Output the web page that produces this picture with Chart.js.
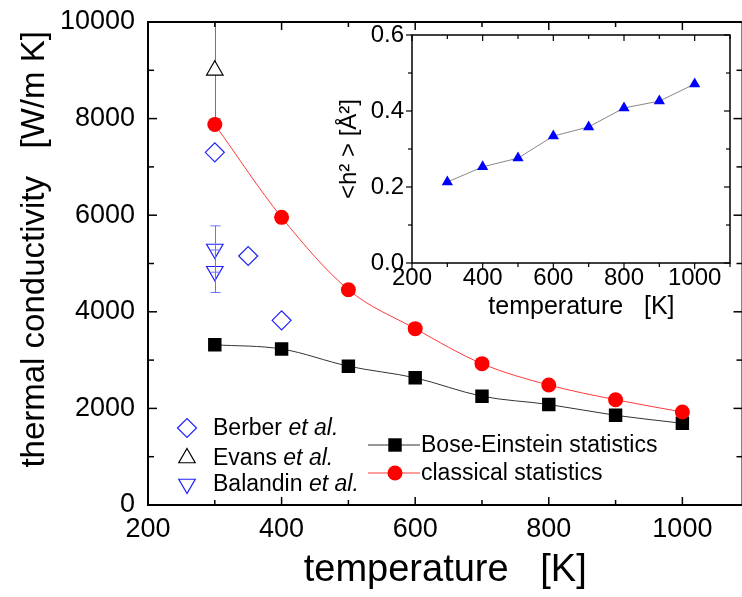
<!DOCTYPE html>
<html>
<head>
<meta charset="utf-8">
<script src="https://cdn.jsdelivr.net/npm/chart.js@4.4.0/dist/chart.umd.min.js"></script>
<style>
  html, body { margin: 0; padding: 0; background: #fff; overflow: hidden; width: 742px; height: 597px; }
  #main { position: absolute; left: 0; top: 0; }
  #inset { position: absolute; left: 320px; top: 20px; }
</style>
</head>
<body>
<canvas id="main" width="760" height="597"></canvas>
<canvas id="inset" width="420" height="330"></canvas>
<script>
// data
const temps = [300, 400, 500, 600, 700, 800, 900, 1000]
const boseEinstein = [3317, 3230, 2874, 2633, 2252, 2081, 1857, 1692]
const classical = [7878, 5956, 4458, 3651, 2926, 2484, 2180, 1925]
const berberT = [300, 350, 400]
const berberK = [7302, 5155, 3824]
const evansT = [300]
const evansK = [9000]
const evansErr = [1000]
const balandinT = [300, 300]
const balandinK = [5300, 4840]
const balandinErr = [480, 440]
const h2 = [0.213, 0.253, 0.276, 0.334, 0.358, 0.408, 0.426, 0.471]

const xTicksMain = { min: 200, max: 1090, step: 200, minor: 100 }
const yTicksMain = { min: 0, max: 10000, step: 2000, minor: 1000 }
const xTicksInset = { min: 200, max: 1100, step: 200, minor: 100 }
const yTicksInset = { min: 0, max: 0.6, step: 0.2, minor: 0.1 }

const fontFamily = '"Liberation Sans", Arial, sans-serif'
const blue = '#1f1fff'

Chart.defaults.font.family = fontFamily
Chart.defaults.color = '#000'

function pts (xs, ys) {
  return xs.map(function (x, i) { return { x: x, y: ys[i] } })
}

function line (ctx, x1, y1, x2, y2) {
  ctx.beginPath()
  ctx.moveTo(x1, y1)
  ctx.lineTo(x2, y2)
  ctx.stroke()
}

// tick marks: dir > 0 inward, dir < 0 outward
function drawAxisTicks (chart, spec, axis, sides, major, minor) {
  const ctx = chart.ctx
  const a = chart.chartArea
  const scale = chart.scales[axis]
  const n = Math.round((spec.max - spec.min) / spec.minor)
  const every = Math.round(spec.step / spec.minor)
  for (let i = 0; i <= n; i++) {
    const v = spec.min + i * spec.minor
    if (v > spec.max + 1e-9) break
    const p = scale.getPixelForValue(v)
    const len = i % every === 0 ? major : minor
    sides.forEach(function (s) {
      if (s.side === 'bottom') line(ctx, p, a.bottom, p, a.bottom - s.dir * len)
      if (s.side === 'top') line(ctx, p, a.top, p, a.top + s.dir * len)
      if (s.side === 'left') line(ctx, a.left, p, a.left + s.dir * len, p)
      if (s.side === 'right') line(ctx, a.right, p, a.right - s.dir * len, p)
    })
  }
}

function drawErrorBars (chart, onTop) {
  const ctx = chart.ctx
  const a = chart.chartArea
  const xs = chart.scales.x
  const ys = chart.scales.y
  chart.data.datasets.forEach(function (ds) {
    if (!ds.errors || !!ds.errorsOnTop !== onTop) return
    ctx.save()
    ctx.beginPath()
    ctx.rect(a.left, a.top - 1, a.right - a.left, a.bottom - a.top + 2)
    ctx.clip()
    ctx.strokeStyle = ds.errorColor
    ctx.lineWidth = 1
    ds.data.forEach(function (p, j) {
      const x = Math.round(xs.getPixelForValue(p.x)) + 0.5
      const y1 = ys.getPixelForValue(p.y - ds.errors[j])
      const y2 = ys.getPixelForValue(p.y + ds.errors[j])
      line(ctx, x, y1, x, y2)
      line(ctx, x - 5, y1, x + 5, y1)
      line(ctx, x - 5, y2, x + 5, y2)
    })
    ctx.restore()
  })
}

function legendText (ctx, x, y, plain, italic) {
  ctx.font = '23px ' + fontFamily
  ctx.fillText(plain, x, y)
  if (italic) {
    const w = ctx.measureText(plain).width
    ctx.font = 'italic 23px ' + fontFamily
    ctx.fillText(italic, x + w, y)
  }
}

// keep the tick label padding from pushing the plot area down
function fixedWidth (w) {
  return function (s) {
    s.width = w
    s.paddingTop = 0
    s.paddingBottom = 0
  }
}

const mainDecor = {
  id: 'mainDecor',
  beforeDatasetsDraw (chart) { drawErrorBars(chart, false) },
  afterDatasetsDraw (chart) { drawErrorBars(chart, true) },
  afterDraw (chart) {
    const ctx = chart.ctx
    const a = chart.chartArea
    ctx.save()
    ctx.strokeStyle = '#000'
    ctx.lineWidth = 2
    ctx.strokeRect(a.left, a.top, a.right - a.left, a.bottom - a.top)
    ctx.lineWidth = 1.5
    const inward = [{ side: 'bottom', dir: 1 }, { side: 'top', dir: 1 }]
    drawAxisTicks(chart, xTicksMain, 'x', inward, 8, 5)
    drawAxisTicks(chart, yTicksMain, 'y', [{ side: 'left', dir: 1 }, { side: 'right', dir: 1 }], 9, 6)

    // legend, left group (measured data)
    const h = Chart.helpers
    ctx.textBaseline = 'middle'
    ctx.fillStyle = '#000'
    const leftItems = [
      { style: 'rectRot', rot: 0, color: blue, y: 428, text: 'Berber ' },
      { style: 'triangle', rot: 0, color: '#000', y: 458, text: 'Evans ' },
      { style: 'triangle', rot: 180, color: blue, y: 484, text: 'Balandin ' }
    ]
    leftItems.forEach(function (it) {
      ctx.strokeStyle = it.color
      ctx.fillStyle = 'rgba(0,0,0,0)'
      ctx.lineWidth = 1.2
      h.drawPoint(ctx, { pointStyle: it.style, rotation: it.rot, radius: 9.5, borderWidth: 1.2 }, 187, it.y)
      ctx.fillStyle = '#000'
      legendText(ctx, 213, it.y + 1, it.text, 'et al.')
    })

    // legend, right group (calculations)
    const rightItems = [
      { style: 'rect', radius: 9.5, color: '#000', lineColor: '#333', y: 445, text: 'Bose-Einstein statistics' },
      { style: 'circle', radius: 7.5, color: '#ff0000', lineColor: '#ff3a3a', y: 473, text: 'classical statistics' }
    ]
    rightItems.forEach(function (it) {
      ctx.strokeStyle = it.lineColor
      ctx.lineWidth = 1
      line(ctx, 368, it.y, 420, it.y)
      ctx.fillStyle = it.color
      ctx.strokeStyle = it.color
      h.drawPoint(ctx, { pointStyle: it.style, rotation: 0, radius: it.radius, borderWidth: 0 }, 395, it.y)
      ctx.fillStyle = '#000'
      legendText(ctx, 421, it.y + 1, it.text)
    })
    ctx.restore()
  }
}

const mainChart = new Chart(document.getElementById('main'), {
  type: 'scatter',
  data: {
    datasets: [
      {
        label: 'classical statistics',
        data: pts(temps, classical),
        showLine: true,
        cubicInterpolationMode: 'monotone',
        borderColor: '#ff3a3a',
        borderWidth: 1,
        pointStyle: 'circle',
        pointRadius: 7.5,
        pointBackgroundColor: '#ff0000',
        pointBorderColor: '#ff0000',
        pointBorderWidth: 0
      },
      {
        label: 'Bose-Einstein statistics',
        data: pts(temps, boseEinstein),
        showLine: true,
        cubicInterpolationMode: 'monotone',
        borderColor: '#333',
        borderWidth: 1,
        pointStyle: 'rect',
        pointRadius: 9.5,
        pointBackgroundColor: '#000',
        pointBorderColor: '#000',
        pointBorderWidth: 0
      },
      {
        label: 'Evans et al.',
        data: pts(evansT, evansK),
        errors: evansErr,
        errorColor: '#777',
        pointStyle: 'triangle',
        pointRadius: 9.5,
        pointBackgroundColor: '#fff',
        pointBorderColor: '#000',
        pointBorderWidth: 1.2
      },
      {
        label: 'Berber et al.',
        data: pts(berberT, berberK),
        pointStyle: 'rectRot',
        pointRadius: 9.5,
        pointBackgroundColor: 'rgba(0,0,0,0)',
        pointBorderColor: blue,
        pointBorderWidth: 1.2
      },
      {
        label: 'Balandin et al.',
        data: pts(balandinT, balandinK),
        errors: balandinErr,
        errorColor: '#6f6fff',
        errorsOnTop: true,
        pointStyle: 'triangle',
        pointRotation: 180,
        pointRadius: 9.5,
        pointBackgroundColor: 'rgba(0,0,0,0)',
        pointBorderColor: blue,
        pointBorderWidth: 1.2
      }
    ]
  },
  options: {
    responsive: false,
    animation: false,
    events: [],
    layout: { padding: { left: 0, top: 22, right: 17.5, bottom: 0 } },
    plugins: { legend: { display: false }, tooltip: { enabled: false } },
    scales: {
      x: {
        type: 'linear',
        min: xTicksMain.min,
        max: xTicksMain.max,
        grid: { display: false, drawTicks: false },
        border: { display: false },
        ticks: {
          stepSize: xTicksMain.step,
          includeBounds: false,
          padding: 8,
          font: { size: 27 },
          callback: function (v) { return v % 200 === 0 ? String(v) : '' }
        },
        title: {
          display: true,
          text: 'temperature   [K]',
          font: { size: 38 },
          padding: { top: 0, bottom: 4 }
        },
        afterFit: function (s) { s.height = 597 - 505 }
      },
      y: {
        type: 'linear',
        min: yTicksMain.min,
        max: yTicksMain.max,
        grid: { display: false, drawTicks: false },
        border: { display: false },
        ticks: {
          stepSize: yTicksMain.step,
          padding: 13,
          font: { size: 27 },
          callback: function (v) { return String(v) }
        },
        title: {
          display: true,
          text: 'thermal conductivity   [W/m K] ',
          align: 'end',
          font: { size: 33 },
          padding: { top: 15, bottom: 0 }
        },
        afterFit: fixedWidth(148)
      }
    }
  },
  plugins: [mainDecor]
})

const insetDecor = {
  id: 'insetDecor',
  afterDraw (chart) {
    const ctx = chart.ctx
    const a = chart.chartArea
    ctx.save()
    ctx.strokeStyle = '#000'
    ctx.lineWidth = 1.5
    ctx.strokeRect(a.left, a.top, a.right - a.left, a.bottom - a.top)
    ctx.lineWidth = 1.2
    drawAxisTicks(chart, xTicksInset, 'x', [{ side: 'bottom', dir: -1 }, { side: 'top', dir: 1 }], 6, 4)
    drawAxisTicks(chart, yTicksInset, 'y', [{ side: 'left', dir: -1 }, { side: 'right', dir: 1 }], 6, 4)
    ctx.restore()
  }
}

const insetChart = new Chart(document.getElementById('inset'), {
  type: 'scatter',
  data: {
    datasets: [{
      label: '<h²>',
      data: pts(temps, h2),
      showLine: true,
      borderColor: '#888',
      borderWidth: 1,
      pointStyle: 'triangle',
      pointRadius: 6.5,
      pointBackgroundColor: '#0000ff',
      pointBorderColor: '#0000ff',
      pointBorderWidth: 0
    }]
  },
  options: {
    responsive: false,
    animation: false,
    events: [],
    layout: { padding: { left: 0, top: 15, right: 10, bottom: 0 } },
    plugins: { legend: { display: false }, tooltip: { enabled: false } },
    scales: {
      x: {
        type: 'linear',
        min: xTicksInset.min,
        max: xTicksInset.max,
        grid: { display: false, drawTicks: false },
        border: { display: false },
        ticks: {
          stepSize: xTicksInset.step,
          includeBounds: false,
          padding: 1,
          font: { size: 24 },
          callback: function (v) { return v % 200 === 0 ? String(v) : '' }
        },
        title: {
          display: true,
          text: '   temperature   [K]',
          font: { size: 25 },
          padding: { top: 0, bottom: 28 }
        },
        afterFit: function (s) { s.height = 330 - 243 }
      },
      y: {
        type: 'linear',
        min: yTicksInset.min,
        max: yTicksInset.max,
        grid: { display: false, drawTicks: false },
        border: { display: false },
        ticks: {
          stepSize: yTicksInset.step,
          padding: 8,
          font: { size: 24 },
          callback: function (v) { return v.toFixed(1) }
        },
        title: {
          display: true,
          text: '<h² > [Å²]',
          font: { size: 24 },
          padding: { top: 15, bottom: 0 }
        },
        afterFit: fixedWidth(92)
      }
    }
  },
  plugins: [insetDecor]
})
</script>
</body>
</html>
